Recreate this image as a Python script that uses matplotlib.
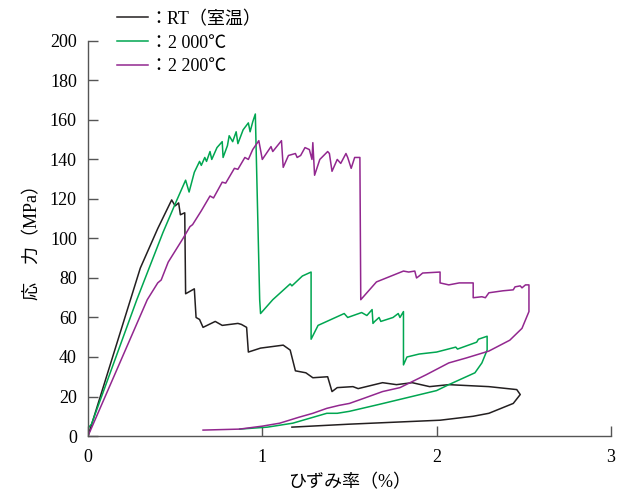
import matplotlib
matplotlib.use("Agg")
import matplotlib.pyplot as plt

# フォント設定 (欧文: 明朝系の代わりに Liberation Serif, 和文: Noto Sans CJK JP)
plt.rcParams["font.family"] = ["Liberation Serif", "Noto Sans CJK JP"]
plt.rcParams["axes.unicode_minus"] = False

# データ
rt_x = [0, 0.30, 0.40, 0.48, 0.50, 0.52, 0.53, 0.555, 0.56, 0.61, 0.62, 0.64,
        0.66, 0.73, 0.77, 0.86, 0.88, 0.91, 0.92, 0.99, 1.12, 1.16, 1.19, 1.25,
        1.29, 1.375, 1.40, 1.43, 1.52, 1.55, 1.69, 1.77, 1.86, 1.96, 2.07, 2.30,
        2.46, 2.48, 2.44, 2.30, 2.21, 2.02, 1.50, 1.17]
rt_y = [0, 85, 105, 119.5, 116.5, 118, 112, 113, 72, 74.5, 60, 59,
        55, 58, 56, 57, 56.5, 55, 42.5, 44.5, 46, 43.5, 33, 32,
        29.5, 30, 22.5, 24.5, 25, 24, 27, 26, 27, 25, 26, 25,
        23.5, 21, 16.5, 11.5, 10, 8, 6, 4.5]

g2000_x = [0, 0.02, 0.28, 0.43, 0.51, 0.56, 0.58, 0.61, 0.64, 0.65,
           0.67, 0.68, 0.70, 0.71, 0.74, 0.77, 0.775, 0.80, 0.81, 0.83,
           0.85, 0.86, 0.89, 0.92, 0.93, 0.945, 0.96, 0.985, 0.99, 1.06,
           1.16, 1.17, 1.23, 1.28, 1.28, 1.32, 1.47, 1.49, 1.57, 1.60,
           1.63, 1.635, 1.645, 1.67, 1.68, 1.75, 1.78, 1.79, 1.81, 1.81,
           1.83, 1.90, 2.00, 2.11, 2.12, 2.23, 2.24, 2.29, 2.29, 2.26,
           2.22, 2.07, 2.00, 1.67, 1.50, 1.43, 1.37, 1.175, 1.03, 0.87]
g2000_y = [4, 6, 69, 103, 119.5, 129.5, 123.5, 133.5, 139, 137,
           141, 139, 144, 140, 146, 149, 141, 147, 152, 149,
           154, 148, 155, 158.5, 154, 159, 163, 69, 62, 69,
           77, 76, 81, 83, 49, 56, 62, 60, 62.5, 61,
           64, 57, 58, 60, 58, 60, 62, 60, 63, 36,
           40, 41.5, 42.5, 45, 44, 47.5, 49, 50.5, 43.5, 37,
           32, 26, 23, 16, 12.5, 11.5, 11.5, 6.5, 4.5, 3.5]

g2200_x = [0, 0.34, 0.40, 0.42, 0.46, 0.545, 0.585, 0.60, 0.65, 0.70,
           0.72, 0.77, 0.79, 0.84, 0.86, 0.90, 0.92, 0.945, 0.98, 1.00,
           1.05, 1.06, 1.11, 1.12, 1.15, 1.19, 1.20, 1.22, 1.245, 1.27,
           1.285, 1.29, 1.30, 1.33, 1.375, 1.385, 1.40, 1.43, 1.45, 1.48,
           1.49, 1.51, 1.53, 1.56, 1.565, 1.655, 1.81, 1.84, 1.875, 1.885,
           1.90, 1.92, 2.02, 2.02, 2.07, 2.13, 2.21, 2.21, 2.26, 2.28,
           2.30, 2.38, 2.44, 2.45, 2.48, 2.49, 2.51, 2.53, 2.53, 2.49,
           2.42, 2.30, 2.17, 2.07, 1.94, 1.79, 1.69, 1.58, 1.50, 1.44,
           1.37, 1.29, 1.21, 1.10, 1.00, 0.87, 0.66]
g2200_y = [0, 69, 77.5, 79, 88, 100, 106, 107, 114, 121.5,
           120.5, 128.5, 128, 135.5, 135, 141, 140, 145, 149.5, 140,
           146.5, 144, 149.5, 136, 142, 143, 141, 142, 146, 145,
           140, 148.5, 132, 140, 144, 143, 134, 140, 138, 143,
           141, 135.5, 141, 141, 69, 78, 83.5, 83, 83.5, 80,
           81, 82.5, 83, 77.5, 76.5, 77.5, 77.5, 70, 70.5, 70,
           72.5, 73.5, 74, 75.5, 76, 75, 76.5, 76.5, 63, 54.5,
           48.5, 43, 39.5, 37, 31, 24.5, 22.5, 19, 16.5, 15.5,
           14, 11.5, 9.5, 6.5, 5, 3.5, 3]

labels = ["：RT（室温）", "：2 000℃", "：2 200℃"]
colors = ["#231f20", "#00a651", "#92278f"]

fig = plt.figure(figsize=(6.35, 4.97), dpi=100)
ax = fig.add_axes([0.1386, 0.1227, 0.8234, 0.795])

ax.plot(rt_x, rt_y, color=colors[0], lw=1.1, label=labels[0])
ax.plot(g2000_x, g2000_y, color=colors[1], lw=1.1, label=labels[1])
ax.plot(g2200_x, g2200_y, color=colors[2], lw=1.1, label=labels[2])

ax.set_xlim(0, 3)
ax.set_ylim(0, 200)
ax.set_xticks([0, 1, 2, 3])
ax.set_yticks(range(0, 201, 20))
ax.spines["top"].set_visible(False)
ax.spines["right"].set_visible(False)
for s in ["left", "bottom"]:
    ax.spines[s].set_color("#555555")
    ax.spines[s].set_linewidth(1.0)
ax.tick_params(direction="in", length=7, width=1.0, color="#555555",
               labelsize=13, pad=8)
ax.tick_params(axis="x", pad=9)

ax.set_xlabel("ひずみ率（%）", fontsize=13, labelpad=6)
ax.set_ylabel("応　力（MPa）", fontsize=13, labelpad=6)

ax.legend(loc="upper left", bbox_to_anchor=(0.179, 0.986),
          bbox_transform=fig.transFigure, frameon=False, fontsize=13,
          handlelength=1.7, handletextpad=0.1, labelspacing=0.38,
          borderaxespad=0.0, borderpad=0.2)

fig.savefig("out.png", dpi=100)
